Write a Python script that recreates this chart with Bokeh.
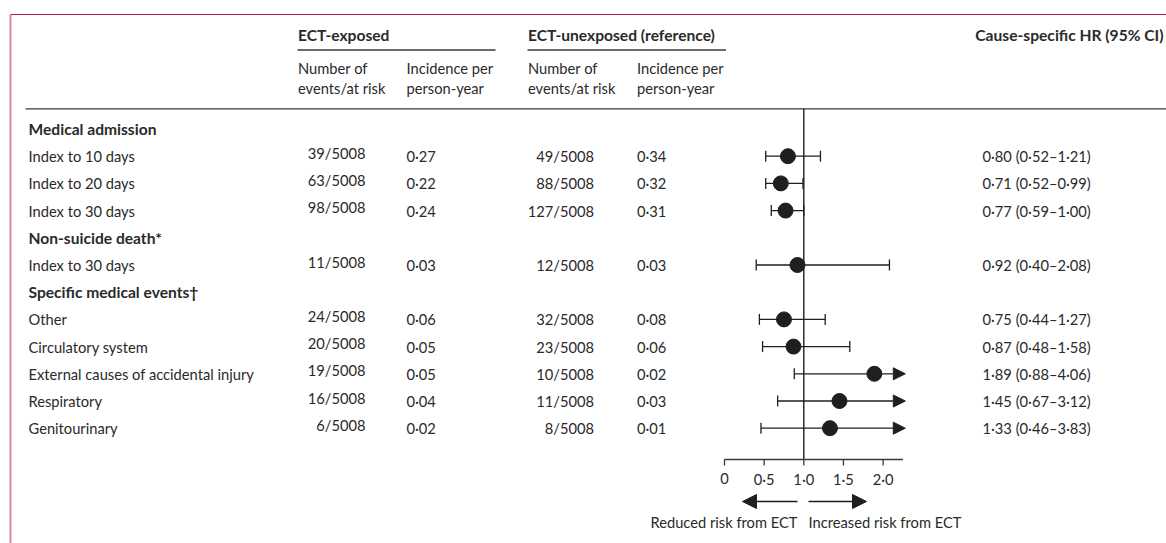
from bokeh.plotting import figure
from bokeh.models import Range1d, ColumnDataSource, Arrow, NormalHead
from bokeh.core.properties import value
from bokeh.embed import file_html
from bokeh.resources import INLINE

# ---------------- data ----------------
section_titles = ["Medical admission", "Non-suicide death*", "Specific medical events\u2020"]
row_labels = ["Index to 10 days", "Index to 20 days", "Index to 30 days",
              "Index to 30 days",
              "Other", "Circulatory system", "External causes of accidental injury",
              "Respiratory", "Genitourinary"]
row_section = [0, 0, 0, 1, 2, 2, 2, 2, 2]
at_risk = 5008
exp_events = [39, 63, 98, 11, 24, 20, 19, 16, 6]
exp_incidence = [0.27, 0.22, 0.24, 0.03, 0.06, 0.05, 0.05, 0.04, 0.02]
unexp_events = [49, 88, 127, 12, 32, 23, 10, 11, 8]
unexp_incidence = [0.34, 0.32, 0.31, 0.03, 0.08, 0.06, 0.02, 0.03, 0.01]
hr = [0.80, 0.71, 0.77, 0.92, 0.75, 0.87, 1.89, 1.45, 1.33]
hr_lo = [0.52, 0.52, 0.59, 0.40, 0.44, 0.48, 0.88, 0.67, 0.46]
hr_hi = [1.21, 0.99, 1.00, 2.08, 1.27, 1.58, 4.06, 3.12, 3.83]
tick_values = [0, 0.5, 1.0, 1.5, 2.0]
axis_max = 2.25
arrow_tip = 2.28

# ---------------- layout constants ----------------
W, H = 1166, 543
FONT = "Lato"
FS = "14.7px"
FSB = "15.6px"
TXT = "#2a2a2a"
ROW0 = 128.5
PITCH = 27.2
HR0_PX = 724.0
HR_SCALE = 79.3

def dot(v):
    return f"{v:.2f}".replace(".", "\u00b7")

def tick_lab(v):
    return "0" if v == 0 else f"{v:.1f}".replace(".", "\u00b7")

# assign row positions
rows_y = []
header_y = []
r = 0
prev = None
for s in row_section:
    if s != prev:
        header_y.append(ROW0 + PITCH * r)
        r += 1
        prev = s
    rows_y.append(ROW0 + PITCH * r)
    r += 1

p = figure(width=W, height=H, x_range=Range1d(0, W), y_range=Range1d(H, 0),
           output_backend="svg", toolbar_location=None, min_border=0,
           x_axis_type=None, y_axis_type=None, outline_line_color=None)
p.grid.visible = False
p.extra_x_ranges = {"hr": Range1d((0 - HR0_PX) / HR_SCALE, (W - HR0_PX) / HR_SCALE)}

# frame lines
p.segment(x0=[10], y0=[14], x1=[W], y1=[14], line_color="#b3203f", line_width=1.2)
p.segment(x0=[10], y0=[14], x1=[10], y1=[H], line_color="#df86a5", line_width=2)

# header rules
p.segment(x0=[25], y0=[108.3], x1=[W], y1=[108.3], line_color="#3a3a3a", line_width=1.3)
p.segment(x0=[297, 527], y0=[49.5, 49.5], x1=[495, 725.5], y1=[49.5, 49.5],
          line_color="#3a3a3a", line_width=1.3)

def txt(x, y, t, align="left", bold=False):
    p.text(x=x, y=y, text=t, text_align=align, text_baseline="middle",
           text_font=value(FONT), text_font_size=FSB if bold else FS, text_color=TXT,
           text_font_style="bold" if bold else "normal")

# column headers
txt([297.5, 527.5], [34, 34], ["ECT-exposed", "ECT-unexposed (reference)"], bold=True)
txt([1163], [34], ["Cause-specific HR (95% CI)"], align="right", bold=True)
txt([297.5, 297.5, 406, 406, 527.5, 527.5, 636.5, 636.5],
    [67, 87.5] * 4,
    ["Number of", "events/at risk", "Incidence per", "person-year"] * 2)

# section titles
txt([28] * len(header_y), header_y, section_titles, bold=True)

# row texts
txt([28] * len(rows_y), rows_y, row_labels)
txt([365] * len(rows_y), [y - 3.5 for y in rows_y],
    [f"{e}/{at_risk}" for e in exp_events], align="right")
txt([406] * len(rows_y), rows_y, [dot(v) for v in exp_incidence])
txt([593.5] * len(rows_y), rows_y, [f"{e}/{at_risk}" for e in unexp_events], align="right")
txt([636.5] * len(rows_y), rows_y, [dot(v) for v in unexp_incidence])
txt([982] * len(rows_y), rows_y,
    [f"{dot(h)} ({dot(l)}\u2013{dot(u)})" for h, l, u in zip(hr, hr_lo, hr_hi)])

# forest plot
AX_Y = 459
LINE = "#1f1f1f"
p.segment(x0=[1.0], y0=[108.3], x1=[1.0], y1=[AX_Y], x_range_name="hr",
          line_color=LINE, line_width=1.4)
p.segment(x0=[0], y0=[AX_Y], x1=[axis_max], y1=[AX_Y], x_range_name="hr",
          line_color="#3a3a3a", line_width=1.3)
p.segment(x0=tick_values, y0=[AX_Y] * len(tick_values), x1=tick_values,
          y1=[AX_Y + 6] * len(tick_values), x_range_name="hr",
          line_color="#3a3a3a", line_width=1.3)
p.text(x=tick_values, y=[478] * len(tick_values), text=[tick_lab(v) for v in tick_values],
       x_range_name="hr", text_align="center", text_baseline="middle",
       text_font=value(FONT), text_font_size=FS, text_color=TXT)

capped = [i for i in range(len(hr)) if hr_hi[i] <= axis_max]
over = [i for i in range(len(hr)) if hr_hi[i] > axis_max]
p.segment(x0=[hr_lo[i] for i in capped], y0=[rows_y[i] for i in capped],
          x1=[hr_hi[i] for i in capped], y1=[rows_y[i] for i in capped],
          x_range_name="hr", line_color=LINE, line_width=1.3)
caps_x = hr_lo + [hr_hi[i] for i in capped]
caps_y = rows_y + [rows_y[i] for i in capped]
p.segment(x0=caps_x, y0=[y - 5.5 for y in caps_y], x1=caps_x, y1=[y + 5.5 for y in caps_y],
          x_range_name="hr", line_color=LINE, line_width=1.3)
arr_src = ColumnDataSource(dict(x0=[hr_lo[i] for i in over], y0=[rows_y[i] for i in over],
                                x1=[arrow_tip] * len(over), y1=[rows_y[i] for i in over]))
p.add_layout(Arrow(end=NormalHead(size=12, fill_color=LINE, line_color=LINE),
                   x_start="x0", y_start="y0", x_end="x1", y_end="y1", source=arr_src,
                   x_range_name="hr", line_color=LINE, line_width=1.3))
p.scatter(x=hr, y=rows_y, size=15, x_range_name="hr", color=LINE)

# direction arrows and labels
p.add_layout(Arrow(end=NormalHead(size=14, fill_color=LINE, line_color=LINE),
                   x_start=797, y_start=501, x_end=742, y_end=501,
                   line_color=LINE, line_width=1.3))
p.add_layout(Arrow(end=NormalHead(size=14, fill_color=LINE, line_color=LINE),
                   x_start=808, y_start=501, x_end=866, y_end=501,
                   line_color=LINE, line_width=1.3))
txt([797], [521], ["Reduced risk from ECT"], align="right")
txt([808], [521], ["Increased risk from ECT"])

open("out.html", "w").write(file_html(p, INLINE))
